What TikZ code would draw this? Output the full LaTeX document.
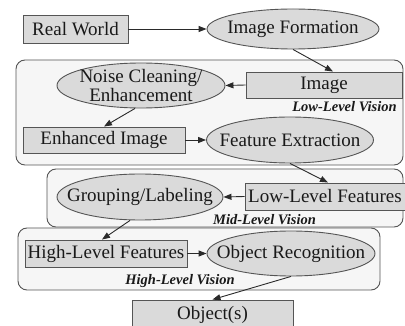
\documentclass[tikz,border=0pt]{standalone}
\usepackage{fontspec}
\setmainfont{Liberation Serif}
\usetikzlibrary{shapes.geometric,arrows.meta}
\definecolor{boxfill}{HTML}{DADADA}
\definecolor{clfill}{HTML}{F6F6F6}
\definecolor{bord}{HTML}{555555}
\definecolor{edgec}{HTML}{2A2A2A}
\begin{document}
\begin{tikzpicture}[x=1pt,y=-1pt,
  every node/.style={font=\fontsize{19}{16}\selectfont, text=black!90},
  box/.style={draw=bord, fill=boxfill, line width=0.9pt, rectangle, inner sep=0},
  ell/.style={draw=bord, fill=boxfill, line width=0.9pt, ellipse, inner sep=0},
  cl/.style={draw=bord, fill=clfill, line width=0.9pt, rounded corners=9pt},
  lbl/.style={font=\fontsize{14.5}{16}\selectfont\bfseries\itshape, inner sep=0},
  arr/.style={draw=edgec, line width=0.9pt, -{Triangle[length=8pt,width=6pt]}},
]
\useasboundingbox (0,0) rectangle (405,326);
\fill[white] (0,0) rectangle (405,326);
% clusters
\draw[cl] (16,60) rectangle (403,165);
\draw[cl] (47,169) rectangle (403,227);
\draw[cl] (18,228) rectangle (380,290);
% nodes
\node[box, minimum width=105, minimum height=28] (rw) at (75.5,29) {Real World};
\node[ell, minimum width=172, minimum height=40, label={[inner sep=0]center:Image Formation}] (if) at (293,29) {};
\node[box, minimum width=156, minimum height=26] (img) at (324,85) {Image};
\node[ell, minimum width=168, minimum height=45, label={[inner sep=0, align=center, font=\fontsize{19}{15.5}\selectfont]center:Noise Cleaning/\\Enhancement}] (noise) at (141,85.5) {};
\node[box, minimum width=162, minimum height=26] (enh) at (104,140) {Enhanced Image};
\node[ell, minimum width=167, minimum height=46, label={[inner sep=0]center:Feature Extraction}] (fe) at (290,140) {};
\node[box, minimum width=160, minimum height=27] (llf) at (325,196.5) {Low-Level Features};
\node[ell, minimum width=166, minimum height=46, label={[inner sep=0]center:Grouping/Labeling}] (grp) at (140,197) {};
\node[box, minimum width=162, minimum height=27] (hlf) at (106,253.5) {High-Level Features};
\node[ell, minimum width=168, minimum height=45, label={[inner sep=0]center:Object Recognition}] (orec) at (291,253.5) {};
\node[box, minimum width=161, minimum height=30] (obj) at (212.5,315) {Object(s)};
% cluster labels
\node[lbl] (lowlbl) at (344.5,107) {Low-Level Vision};
\node[lbl] (midlbl) at (264.5,219.5) {Mid-Level Vision};
\node[lbl] (highlbl) at (180,281) {High-Level Vision};
% edges
\draw[arr] (rw.east) -- (if.west);
\draw[arr] (if.south) -- ([xshift=9]img.north);
\draw[arr] (img.west) -- (noise.east);
\draw[arr] ([xshift=-6]noise.south) -- (enh.north);
\draw[arr] (enh.east) -- (fe.west);
\draw[arr] (fe.south) -- ([xshift=3]llf.north);
\draw[arr] (llf.west) -- (grp.east);
\draw[arr] ([xshift=-10]grp.south) -- ([xshift=-4]hlf.north);
\draw[arr] (hlf.east) -- (orec.west);
\draw[arr] (orec.south) -- (obj.north);
\end{tikzpicture}
\end{document}
